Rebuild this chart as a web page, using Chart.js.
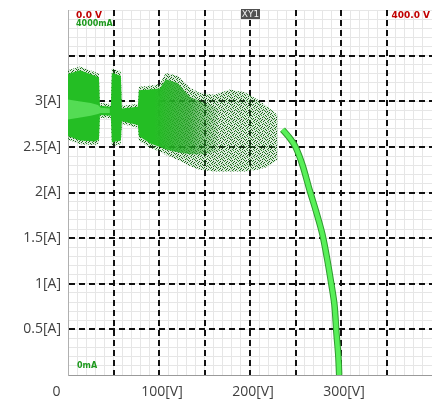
<!DOCTYPE html>
<html>
<head>
<meta charset="utf-8">
<script src="https://cdn.jsdelivr.net/npm/chart.js@4"></script>
<style>
  html, body { margin: 0; padding: 0; background: #fff; }
  #wrap { width: 432px; height: 405px; position: relative; }
</style>
</head>
<body>
<div id="wrap"><canvas id="xy"></canvas></div>
<script>
// ----- axis ticks -----
const xTicks = [0, 100, 200, 300];          // labelled voltages [V]
const yTicks = [0.5, 1, 1.5, 2, 2.5, 3];    // labelled currents [A]

// ----- sparse (speckled) cloud, V vs upper / lower A -----
const cloudV     = [0, 13.2, 29.6, 34.0, 35.1, 47.1, 48.2, 58.1, 59.2, 76.8, 77.9, 89.9, 100.9, 107.5, 120.6, 133.8, 144.7, 161.2, 177.6, 194.1, 208.3, 219.3, 230.3];
const cloudUpper = [3.34, 3.38, 3.32, 3.30, 2.98, 2.97, 3.36, 3.33, 2.95, 2.97, 3.16, 3.17, 3.19, 3.31, 3.28, 3.15, 3.09, 3.07, 3.13, 3.10, 3.02, 2.94, 2.85];
const cloudLower = [2.58, 2.53, 2.52, 2.54, 2.82, 2.81, 2.51, 2.53, 2.75, 2.71, 2.57, 2.49, 2.45, 2.41, 2.36, 2.29, 2.25, 2.23, 2.23, 2.23, 2.25, 2.28, 2.36];

// ----- dense (solid green) part of the cloud -----
const denseV     = [0, 13.2, 29.6, 34.0, 35.1, 47.1, 48.2, 58.1, 59.2, 76.8, 77.9, 89.9, 100.9, 107.5, 120.6, 133.8, 150.0, 165.0];
const denseUpper = [3.30, 3.34, 3.28, 3.26, 2.95, 2.94, 3.31, 3.28, 2.92, 2.94, 3.12, 3.13, 3.14, 3.24, 3.20, 3.05, 2.98, 2.92];
const denseLower = [2.62, 2.57, 2.56, 2.58, 2.85, 2.84, 2.55, 2.57, 2.78, 2.74, 2.62, 2.54, 2.50, 2.47, 2.44, 2.42, 2.42, 2.45];

// ----- bright core stripe at the left -----
const coreV     = [0, 12, 25, 33, 36, 46];
const coreUpper = [3.02, 3.00, 2.98, 2.96, 2.93, 2.92];
const coreLower = [2.80, 2.82, 2.84, 2.86, 2.87, 2.87];

// ----- I-V curve -----
const curveV = [235.7, 243.4, 250.0, 257.7, 265.4, 273.0, 279.6, 285.0, 289.5, 292.8, 295.0, 297.0, 298.0];
const curveA = [2.69, 2.60, 2.50, 2.30, 2.03, 1.78, 1.54, 1.26, 0.99, 0.77, 0.46, 0.22, 0];

const pts = (xs, ys) => xs.map((x, i) => ({ x, y: ys[i] }));

// speckle pattern for the sparse cloud (fixed dot layout, 7x7 tile)
const DOTS = [[0, 0], [3, 0], [5, 1], [1, 2], [4, 2], [6, 3], [2, 3], [0, 4], [3, 5], [5, 5], [1, 6], [6, 6], [4, 4], [2, 1]];
function speckle() {
  const c = document.createElement('canvas');
  c.width = 7; c.height = 7;
  const g = c.getContext('2d');
  g.fillStyle = 'rgba(60,150,60,0.18)';
  g.fillRect(0, 0, 7, 7);
  DOTS.forEach(([x, y], i) => {
    g.fillStyle = i % 3 === 0 ? '#2e8c2e' : '#1a621a';
    g.fillRect(x, y, 1, 1);
  });
  return g.createPattern(c, 'repeat');
}

// dense fill fades out into the speckles towards the right
function denseFill(c) {
  const { chart } = c;
  if (!chart.chartArea) return '#28c428';
  const xs = chart.scales.x;
  const x0 = xs.getPixelForValue(95), x1 = xs.getPixelForValue(170);
  const g = chart.ctx.createLinearGradient(x0, 0, x1, 0);
  g.addColorStop(0, 'rgba(36,190,36,1)');
  g.addColorStop(0.5, 'rgba(34,165,34,0.75)');
  g.addColorStop(1, 'rgba(30,140,30,0)');
  return g;
}

// order: higher number is drawn further back
const band = (xs, up, lo, fillColor, order) => ([
  { data: pts(xs, up), fill: '+1', backgroundColor: fillColor, borderWidth: 0, pointRadius: 0, order },
  { data: pts(xs, lo), fill: false, borderWidth: 0, pointRadius: 0, order },
]);

const overlayText = {
  id: 'overlayText',
  afterDraw(chart) {
    const { ctx } = chart;
    ctx.save();
    ctx.textBaseline = 'top';
    ctx.font = 'bold 9px "DejaVu Sans"';
    ctx.fillStyle = '#c00000';
    ctx.textAlign = 'left';
    ctx.fillText('0.0 V', 76, 11);
    ctx.textAlign = 'right';
    ctx.fillText('400.0 V', 430, 11);
    ctx.font = 'bold 8px "DejaVu Sans"';
    ctx.fillStyle = '#1e9a1e';
    ctx.textAlign = 'left';
    ctx.fillText('4000mA', 76, 20);
    ctx.fillText('0mA', 77, 362);
    // XY1 tag
    ctx.fillStyle = '#505050';
    ctx.fillRect(241, 9, 19, 10);
    ctx.fillStyle = '#f0f0f0';
    ctx.font = '9px "DejaVu Sans"';
    ctx.textAlign = 'center';
    ctx.fillText('XY1', 250.5, 10);
    ctx.restore();
  },
};

const edgeless = (max) => (c) => (c.tick.value <= 0 || c.tick.value >= max) ? 'rgba(0,0,0,0)' : '#111';

new Chart(document.getElementById('xy'), {
  type: 'line',
  data: {
    datasets: [
      ...band(cloudV, cloudUpper, cloudLower, speckle(), 5),
      ...band(denseV, denseUpper, denseLower, denseFill, 4),
      ...band(coreV, coreUpper, coreLower, 'rgba(100,230,100,0.75)', 3),
      // curve: dark speckled edge under a bright core
      { data: pts(curveV, curveA), fill: false, borderColor: '#2f9a2f', borderWidth: 6.5, tension: 0.3, pointRadius: 0, order: 2 },
      { data: pts(curveV, curveA), fill: false, borderColor: '#58f058', borderWidth: 4.5, tension: 0.3, pointRadius: 0, order: 1 },
    ],
  },
  options: {
    responsive: true,
    maintainAspectRatio: false,
    animation: false,
    layout: { padding: { top: 10, right: 0, left: 0, bottom: 0 } },
    plugins: { legend: { display: false }, tooltip: { enabled: false } },
    scales: {
      xMinor: {
        type: 'linear', position: 'bottom', min: 0, max: 400,
        ticks: { display: false, stepSize: 10 },
        grid: { color: '#e6e6e6', drawTicks: false, lineWidth: 1 },
        border: { display: false },
        afterFit: (s) => { s.height = 0; s.paddingLeft = 0; s.paddingRight = 0; },
      },
      yMinor: {
        type: 'linear', position: 'left', min: 0, max: 4,
        ticks: { display: false, stepSize: 0.1 },
        grid: { color: '#e6e6e6', drawTicks: false, lineWidth: 1 },
        border: { display: false },
        afterFit: (s) => { s.width = 0; s.paddingTop = 0; s.paddingBottom = 0; },
      },
      x: {
        type: 'linear', position: 'bottom', min: 0, max: 400, z: 1,
        ticks: {
          stepSize: 50, autoSkip: false, maxRotation: 0, padding: 9, labelOffset: 3,
          color: '#404040', font: { family: "'Open Sans'", size: 14 },
          callback: (v) => v === 0 ? '0        ' : (xTicks.includes(v) ? v + '[V]' : ''),
        },
        grid: { color: edgeless(400), lineWidth: 2, drawTicks: false },
        border: { color: '#9a9a9a', width: 1, dash: [6, 4] },
        afterFit: (s) => { s.height = 30; s.paddingLeft = 0; s.paddingRight = 0; },
      },
      y: {
        type: 'linear', position: 'left', min: 0, max: 4, z: 1,
        ticks: {
          stepSize: 0.5, autoSkip: false, padding: 7,
          color: '#404040', font: { family: "'Open Sans'", size: 14 },
          callback: (v) => yTicks.includes(v) ? v + '[A]' : '',
        },
        grid: { color: edgeless(4), lineWidth: 2, drawTicks: false },
        border: { color: '#b0b0b0', width: 1, dash: [6, 4] },
        afterFit: (s) => { s.width = 68; s.paddingTop = 0; s.paddingBottom = 0; },
      },
    },
  },
  plugins: [overlayText],
});
</script>
</body>
</html>
